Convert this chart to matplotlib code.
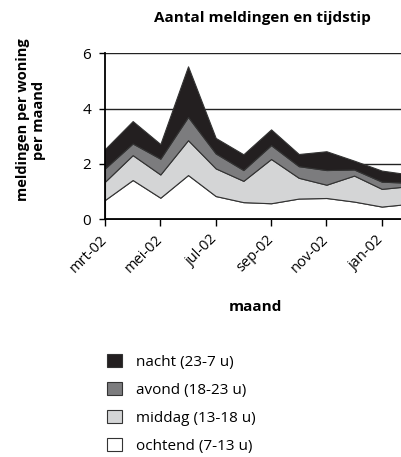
import matplotlib
matplotlib.use("Agg")
import matplotlib.pyplot as plt
import numpy as np
from matplotlib.patches import Patch

plt.rcParams["font.family"] = ["Open Sans", "DejaVu Sans"]

months = ["mrt-02", "apr-02", "mei-02", "jun-02", "jul-02", "aug-02",
          "sep-02", "okt-02", "nov-02", "dec-02", "jan-02", "feb-02"]
ochtend = [0.70, 1.42, 0.78, 1.60, 0.84, 0.62, 0.58, 0.75, 0.77, 0.64, 0.46, 0.56]
middag = [0.66, 0.90, 0.84, 1.26, 1.00, 0.77, 1.60, 0.75, 0.48, 0.94, 0.64, 0.64]
avond = [0.48, 0.42, 0.57, 0.84, 0.54, 0.39, 0.50, 0.42, 0.53, 0.22, 0.26, 0.12]
nacht = [0.70, 0.81, 0.53, 1.83, 0.56, 0.57, 0.57, 0.44, 0.68, 0.32, 0.40, 0.30]
series_labels = ["ochtend (7-13 u)", "middag (13-18 u)", "avond (18-23 u)", "nacht (23-7 u)"]
colors = ["#ffffff", "#d4d5d6", "#7c7c7e", "#231f20"]
y_ticks = [0, 2, 4, 6]

fig = plt.figure(figsize=(4.02, 4.57), dpi=100)
ax = fig.add_axes([105 / 402, 1 - 219.3 / 457, 297 / 402, 166 / 457])

x = np.arange(len(months))
ax.stackplot(x, ochtend, middag, avond, nacht, colors=colors,
             edgecolor="#333333", linewidth=0.8, zorder=2)

ax.set_xlim(0, 10.73)
ax.set_ylim(0, 6)
ax.set_yticks(y_ticks)
ax.set_yticklabels([str(v) for v in y_ticks], fontsize=11)
ax.set_xticks(x[::2])
ax.set_xticklabels(months[::2], rotation=45, ha="right", va="center",
                   rotation_mode="anchor", fontsize=10.5)
ax.tick_params(axis="y", length=4, width=1, pad=6)
ax.tick_params(axis="x", length=5, width=1, pad=8)

# gridlines sit under the areas
for v in y_ticks[1:]:
    ax.axhline(v, color="#222222", linewidth=1.0, zorder=1)

for side in ["top", "right"]:
    ax.spines[side].set_visible(False)
for side in ["left", "bottom"]:
    ax.spines[side].set_linewidth(1.3)
    ax.spines[side].set_zorder(3)

fig.text(262 / 402, 1 - 18 / 457, "Aantal meldingen en tijdstip",
         ha="center", va="center", fontsize=11, fontweight="bold")
fig.text(31 / 402, 1 - 120 / 457, "meldingen per woning\nper maand",
         ha="center", va="center", rotation=90, fontsize=10.5,
         fontweight="bold", linespacing=1.15)
fig.text(255 / 402, 1 - 307 / 457, "maand", ha="center", va="center",
         fontsize=11, fontweight="bold")

handles = [Patch(facecolor=c, edgecolor="#333333", linewidth=0.8) for c in colors]
fig.legend(handles[::-1], series_labels[::-1], loc="upper left",
           bbox_to_anchor=(93 / 402, 1 - 340 / 457), frameon=False,
           fontsize=11, handlelength=1.0, handleheight=1.0,
           labelspacing=0.78, handletextpad=0.9)

fig.savefig("out.png", dpi=100)
plt.close(fig)
